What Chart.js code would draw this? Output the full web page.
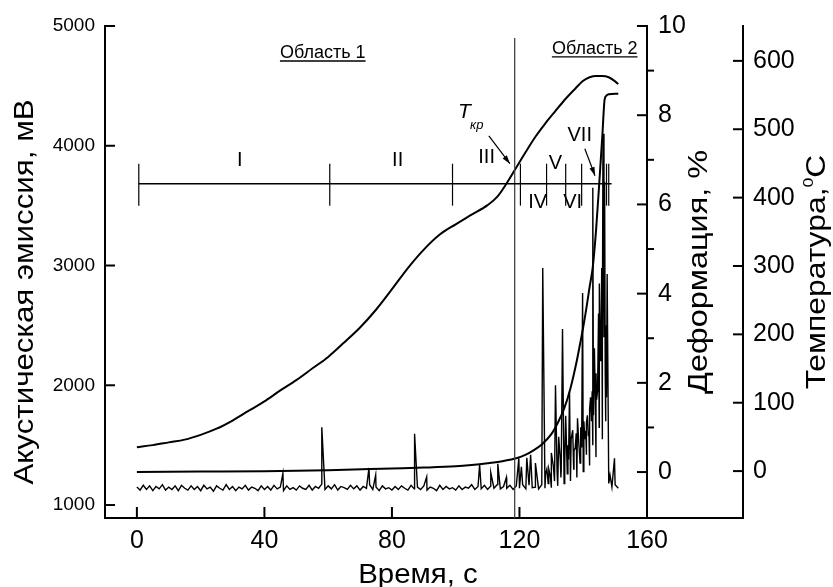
<!DOCTYPE html>
<html>
<head>
<meta charset="utf-8">
<script src="https://cdn.jsdelivr.net/npm/chart.js@4.4.0/dist/chart.umd.min.js"></script>
<style>
  html, body { margin: 0; padding: 0; background: #fff; }
</style>
</head>
<body>
<canvas id="grafico" width="833" height="587"></canvas>
<script>
// ---- dados ----
// sinal de emissão acústica (mV), um valor por segundo, t = 0..151 s
const aeNoise = [
  1150, 1125, 1165, 1130, 1160, 1120, 1155, 1135, 1170, 1125,
  1150, 1130, 1160, 1120, 1165, 1140, 1125, 1160, 1130, 1155,
  1120, 1165, 1135, 1150, 1115, 1160, 1140, 1125, 1170, 1130,
  1155, 1120, 1150, 1135, 1165, 1125, 1150, 1140, 1120, 1160,
  1130, 1155, 1125, 1165, 1135, 1150, 1120, 1160, 1130, 1145,
  1125, 1160, 1140, 1130, 1165, 1125, 1155, 1140, 1175, 1130,
  1160, 1135, 1170, 1125, 1155, 1145, 1130, 1165, 1135, 1160,
  1125, 1155, 1140, 1170, 1130, 1150, 1120, 1160, 1135, 1145,
  1125, 1155, 1130, 1160, 1140, 1125, 1165, 1135, 1150, 1130,
  1160, 1125, 1150, 1140, 1120, 1165, 1130, 1155, 1135, 1145,
  1125, 1160, 1130, 1150, 1140, 1170, 1130, 1155, 1135, 1165,
  1130, 1160, 1140, 1170, 1135, 1155, 1140, 1165, 1130, 1160,
  1140, 1170, 1135, 1165, 1145, 1150, 1135, 1170, 1140, 1180,
  1145, 1200, 1160, 1230, 1180, 1260, 1200, 1300, 1230, 1350,
  1280, 1420, 1330, 1500, 1400, 1650, 1550, 1700, 1180, 1150,
  1170, 1140
];
// picos (impulsos) de emissão acústica
const aeSpikeTime = [45.8, 58, 72.8, 74.9, 87.1, 90.9, 107.5, 111, 113.2, 115.9,
  119.8, 120.6, 122.3, 123.5, 125, 127.3, 128.6, 130, 131.3, 132.3,
  133.5, 134.5, 135.7, 136.7, 137.5, 138.2, 139.8, 140.5, 141, 141.8,
  142.3, 143, 143.5, 144.2, 144.8, 145.1, 145.5, 145.8, 146.2, 146.5,
  146.7, 147.1, 147.5, 148.4, 149.8,
  128.2, 129.2, 129.7, 130.6, 131.8, 132.8, 133.1, 133.9, 134.2, 135.2,
  135.4, 136.2, 137.1, 137.8, 138.6, 139.2, 139.5, 140.2, 140.8, 141.3,
  141.6, 142.0, 142.6, 142.8, 143.2, 143.8, 144.0, 144.5, 145.0, 145.3,
  146.0, 146.9, 147.3];
const aeSpikeValue = [1265, 1650, 1310, 1250, 1595, 1235, 1335, 1270, 1345, 1230,
  1390, 1320, 1395, 1420, 1350, 2980, 1300, 1435, 2000, 1570,
  2470, 1745, 1945, 1625, 1480, 1725, 2770, 1550, 1685, 1600,
  1900, 3650, 2310, 1880, 2600, 2850, 2200, 2980, 4100, 2400,
  3700, 2500, 2930, 1250, 1390,
  1260, 1300, 1240, 1330, 1280, 1380, 1300, 1420, 1350, 1500,
  1380, 1550, 1450, 1600, 1520, 1650, 1480, 1700, 1620, 1750,
  1580, 1800, 1700, 1950, 1750, 1850, 2100, 1950, 2000, 2300,
  2500, 2100, 1900];

// deformação (%)
const defTime = [0, 20, 40, 60, 80, 90, 100, 105, 110, 115,
  119, 122, 124, 127, 130, 132, 134, 136, 138, 139,
  140, 141, 142, 143, 144, 145, 146, 146.7, 147.3, 148,
  150, 151];
const defValue = [0, 0.01, 0.02, 0.04, 0.08, 0.1, 0.13, 0.16, 0.2, 0.25,
  0.31, 0.39, 0.47, 0.62, 0.85, 1.1, 1.42, 1.88, 2.5, 2.87,
  3.25, 3.68, 4.15, 4.6, 5.4, 6.45, 7.55, 8.35, 8.44, 8.47,
  8.48, 8.48];

// temperatura (°C)
const tempTime = [0, 5, 10, 15, 20, 25, 30, 35, 40, 45, 50, 55, 60, 65, 70, 75, 80, 85, 90,
  95, 100, 105, 110, 113, 116, 119, 122, 125, 128, 131, 134, 137, 140, 142, 144, 146, 148, 150, 151];
const tempValue = [35, 38, 42, 46, 53, 62, 74, 88, 102, 118, 133, 150, 167, 188, 210, 236, 266, 297, 324,
  346, 361, 375, 389, 401, 421, 444, 467, 489, 508, 525, 542, 557, 571, 576, 578, 578, 576, 570, 566];

// marcas dos eixos
const xTicks = [0, 40, 80, 120, 160];
const aeTicks = [1000, 2000, 3000, 4000, 5000];
const defTicks = [0, 2, 4, 6, 8, 10];
const defMinorTicks = [1, 3, 5, 7, 9];
const tempTicks = [0, 100, 200, 300, 400, 500, 600];

// estágios I..VII (no eixo de emissão acústica)
const stageBounds = [0.6, 60.5, 99, 120.3, 128.5, 134.5, 139.5, 147.3, 148];
const stageNames = ['I', 'II', 'III', 'IV', 'V', 'VI', 'VII'];
const stageLabelTime = [32.3, 81.8, 109.7, 125.7, 131.3, 136.7, 138.9];
const stageLabelAE = [3875, 3875, 3900, 3525, 3850, 3525, 4083];
const stageLineAE = 3683;
const stageLineEnd = 148.9;
const stageTickAE = [3850, 3500];

const tCritTime = 118.5;
const tCritTopAE = 4900;

const fonte = '"Liberation Sans", Arial, sans-serif';
Chart.defaults.font.family = fonte;
Chart.defaults.color = '#000';

function juntaPontos(tempos, valores) {
  return tempos.map((t, i) => ({ x: t, y: valores[i] }));
}

let pontosAE = aeNoise.map((v, i) => ({ x: i, y: v }));
pontosAE = pontosAE.concat(juntaPontos(aeSpikeTime, aeSpikeValue));
pontosAE.sort((a, b) => a.x - b.x);

function seta(ctx, x1, y1, x2, y2) {
  const ang = Math.atan2(y2 - y1, x2 - x1);
  const tam = 9;
  ctx.beginPath();
  ctx.moveTo(x1, y1);
  ctx.lineTo(x2, y2);
  ctx.stroke();
  ctx.beginPath();
  ctx.moveTo(x2, y2);
  ctx.lineTo(x2 - tam * Math.cos(ang - 0.3), y2 - tam * Math.sin(ang - 0.3));
  ctx.lineTo(x2 - tam * Math.cos(ang + 0.3), y2 - tam * Math.sin(ang + 0.3));
  ctx.closePath();
  ctx.fill();
}

// texto com partes (para o índice "0" de °C), girado e esticado no sentido da leitura
function titulo(ctx, partes, bx, cy, girar, esticar) {
  ctx.save();
  ctx.translate(bx, cy);
  if (girar) ctx.rotate(-Math.PI / 2);
  ctx.scale(esticar, 1);
  ctx.textBaseline = 'alphabetic';
  ctx.textAlign = 'left';
  let total = 0;
  partes.forEach((p) => {
    ctx.font = p.tamanho + 'px ' + fonte;
    p.w = ctx.measureText(p.texto).width;
    total += p.w;
  });
  let pos = -total / 2;
  partes.forEach((p) => {
    ctx.font = p.tamanho + 'px ' + fonte;
    ctx.fillText(p.texto, pos, -(p.sobe || 0));
    pos += p.w;
  });
  ctx.restore();
}

const extras = {
  id: 'extras',
  afterDatasetsDraw(chart) {
    const ctx = chart.ctx;
    const x = chart.scales.x;
    const ae = chart.scales.yAE;
    const px = (t) => x.getPixelForValue(t);
    const py = (v) => ae.getPixelForValue(v);
    ctx.save();
    ctx.fillStyle = '#000';

    // linha vertical em Tкр
    ctx.strokeStyle = '#444';
    ctx.lineWidth = 1.3;
    ctx.beginPath();
    ctx.moveTo(px(tCritTime), py(tCritTopAE));
    ctx.lineTo(px(tCritTime), ae.bottom);
    ctx.stroke();

    // linha dos estágios
    ctx.strokeStyle = '#000';
    ctx.lineWidth = 1.6;
    ctx.beginPath();
    ctx.moveTo(px(stageBounds[0]), py(stageLineAE));
    ctx.lineTo(px(stageLineEnd), py(stageLineAE));
    ctx.stroke();
    ctx.lineWidth = 1.2;
    stageBounds.forEach((t) => {
      ctx.beginPath();
      ctx.moveTo(px(t), py(stageTickAE[0]));
      ctx.lineTo(px(t), py(stageTickAE[1]));
      ctx.stroke();
    });

    ctx.font = '20px ' + fonte;
    ctx.textAlign = 'center';
    ctx.textBaseline = 'middle';
    stageNames.forEach((n, i) => {
      ctx.fillText(n, px(stageLabelTime[i]), py(stageLabelAE[i]));
    });

    // T кр
    ctx.textAlign = 'left';
    ctx.textBaseline = 'alphabetic';
    ctx.font = 'italic 21px ' + fonte;
    ctx.fillText('T', px(100.7), py(4233));
    ctx.font = 'italic 13px ' + fonte;
    ctx.fillText('кр', px(104.5), py(4142));

    ctx.lineWidth = 1.2;
    seta(ctx, px(110.4), py(4083), px(117), py(3850));
    seta(ctx, px(140.5), py(3975), px(143.7), py(3750));

    // Область 1 / Область 2
    ctx.font = '18px ' + fonte;
    ctx.textAlign = 'center';
    [['Область 1', 58.3, 4733], ['Область 2', 143.6, 4767]].forEach(([txt, t, v]) => {
      const w = ctx.measureText(txt).width;
      ctx.fillText(txt, px(t), py(v));
      ctx.beginPath();
      ctx.lineWidth = 1.3;
      ctx.moveTo(px(t) - w / 2, py(v) + 3);
      ctx.lineTo(px(t) + w / 2, py(v) + 3);
      ctx.stroke();
    });
    ctx.restore();
  },
  afterDraw(chart) {
    const ctx = chart.ctx;
    const { x, yAE, yDef, yTemp } = chart.scales;
    ctx.save();
    ctx.strokeStyle = '#000';
    ctx.fillStyle = '#000';
    ctx.lineWidth = 2;
    const linha = (x1, y1, x2, y2) => {
      ctx.beginPath();
      ctx.moveTo(x1, y1);
      ctx.lineTo(x2, y2);
      ctx.stroke();
    };
    // eixo de baixo prolongado até o eixo de temperatura
    linha(x.right, x.top, yTemp.left + 1, x.top);

    aeTicks.forEach((v) => {
      const p = yAE.getPixelForValue(v);
      linha(yAE.right, p, yAE.right + 10, p);
    });
    xTicks.forEach((v) => {
      const p = x.getPixelForValue(v);
      linha(p, x.top, p, x.top - 11);
    });
    defTicks.forEach((v) => {
      const p = yDef.getPixelForValue(v);
      linha(yDef.left - 10, p, yDef.left, p);
    });
    defMinorTicks.forEach((v) => {
      const p = yDef.getPixelForValue(v);
      linha(yDef.left, p, yDef.left + 7, p);
    });
    tempTicks.forEach((v) => {
      const p = yTemp.getPixelForValue(v);
      linha(yTemp.left - 10, p, yTemp.left, p);
    });

    // títulos dos eixos
    titulo(ctx, [{ texto: 'Акустическая эмиссия, мВ', tamanho: 27 }], 32.5, 292, true, 1.16);
    titulo(ctx, [{ texto: 'Деформация, %', tamanho: 27 }], 707, 272, true, 1.2);
    titulo(ctx, [
      { texto: 'Температура,', tamanho: 27 },
      { texto: '0', tamanho: 15, sobe: 12 },
      { texto: 'C', tamanho: 27 }
    ], 824.5, 272, true, 1.18);
    titulo(ctx, [{ texto: 'Время, с', tamanho: 27 }], 418, 583, false, 1.09);
    ctx.restore();
  }
};

const grafico = document.getElementById('grafico');
const semMilhar = (v) => String(v);

const graficoAE = new Chart(grafico, {
  type: 'line',
  data: {
    datasets: [
      {
        label: 'Акустическая эмиссия',
        data: pontosAE,
        yAxisID: 'yAE',
        borderColor: '#000',
        borderWidth: 1.4,
        pointRadius: 0,
        tension: 0,
      },
      {
        label: 'Деформация',
        data: juntaPontos(defTime, defValue),
        yAxisID: 'yDef',
        borderColor: '#000',
        borderWidth: 2,
        pointRadius: 0,
        cubicInterpolationMode: 'monotone',
      },
      {
        label: 'Температура',
        data: juntaPontos(tempTime, tempValue),
        yAxisID: 'yTemp',
        borderColor: '#000',
        borderWidth: 2,
        pointRadius: 0,
        cubicInterpolationMode: 'monotone',
      },
    ],
  },
  options: {
    responsive: false,
    animation: false,
    devicePixelRatio: 1,
    layout: { padding: { top: 25, left: 0, right: 0, bottom: 0 } },
    plugins: { legend: { display: false }, tooltip: { enabled: false } },
    scales: {
      x: {
        type: 'linear',
        position: 'bottom',
        min: -10,
        max: 160,
        afterBuildTicks: (s) => { s.ticks = xTicks.map((v) => ({ value: v })); },
        afterFit: (s) => { s.height = 69; },
        grid: { display: false, drawTicks: false },
        border: { color: '#000', width: 2 },
        ticks: { font: { size: 25 }, color: '#000', padding: 8, maxRotation: 0, autoSkip: false, callback: semMilhar },
      },
      yAE: {
        type: 'linear',
        position: 'left',
        min: 891.7,
        max: 5000,
        afterBuildTicks: (s) => { s.ticks = aeTicks.map((v) => ({ value: v })); },
        afterFit: (s) => { s.width = 105; },
        grid: { display: false, drawTicks: false },
        border: { color: '#000', width: 2 },
        ticks: { font: { size: 19 }, color: '#000', padding: 10, autoSkip: false, callback: semMilhar },
      },
      yDef: {
        type: 'linear',
        position: 'right',
        weight: 1,
        min: -1.03,
        max: 10,
        afterBuildTicks: (s) => { s.ticks = defTicks.map((v) => ({ value: v })); },
        afterFit: (s) => { s.width = 96; },
        grid: { display: false, drawTicks: false },
        border: { color: '#000', width: 2 },
        ticks: { font: { size: 25 }, color: '#000', padding: 11, autoSkip: false, callback: semMilhar },
      },
      yTemp: {
        type: 'linear',
        position: 'right',
        weight: 2,
        min: -68.6,
        max: 651,
        afterBuildTicks: (s) => { s.ticks = tempTicks.map((v) => ({ value: v })); },
        afterFit: (s) => { s.width = 90; },
        grid: { display: false, drawTicks: false },
        border: { color: '#000', width: 2 },
        ticks: { font: { size: 25 }, color: '#000', padding: 10, autoSkip: false, callback: semMilhar },
      },
    },
  },
  plugins: [extras],
});
</script>
</body>
</html>
